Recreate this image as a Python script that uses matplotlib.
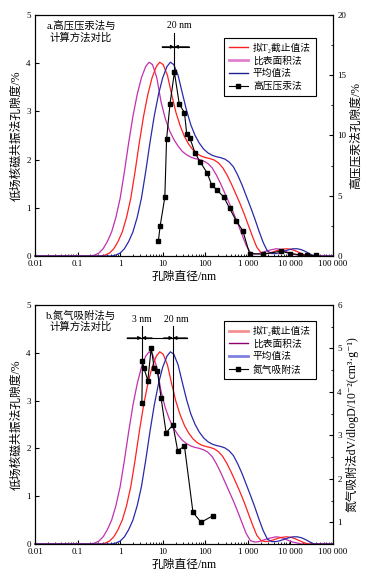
import numpy as np
import matplotlib
matplotlib.use("Agg")
import matplotlib.pyplot as plt
from matplotlib.lines import Line2D
from matplotlib.ticker import FixedLocator, FixedFormatter, MultipleLocator, LogLocator, NullFormatter

plt.rcParams['font.family'] = ['Liberation Serif', 'Noto Sans CJK SC', 'DejaVu Serif']
plt.rcParams['axes.unicode_minus'] = False

# 低场核磁共振 计算方法曲线 (log10 孔径/nm, 孔隙度/%)
t2_logd = [-2.0, -0.45, -0.35, -0.25, -0.15, -0.05, 0.05, 0.15, 0.25, 0.35, 0.45, 0.55, 0.65, 0.75,
           0.85, 0.93, 1.01, 1.11, 1.21, 1.31, 1.41, 1.51, 1.61, 1.71, 1.81, 1.91, 2.01, 2.11, 2.21,
           2.31, 2.41, 2.51, 2.61, 2.71, 2.81, 2.91, 3.01, 3.11, 3.21, 3.31, 3.41, 3.51, 3.61, 3.71,
           3.81, 3.91, 4.01, 4.11, 4.21, 4.31, 4.41, 5.0]
t2_val = [0, 0, 0.02, 0.06, 0.15, 0.3, 0.5, 0.8, 1.2, 1.75, 2.35, 2.9, 3.35, 3.7,
          3.93, 4.02, 3.97, 3.75, 3.35, 2.98, 2.7, 2.48, 2.32, 2.2, 2.12, 2.07, 2.04, 2.02, 1.99,
          1.93, 1.83, 1.68, 1.5, 1.3, 1.1, 0.88, 0.64, 0.4, 0.18, 0.07, 0.05, 0.06, 0.09, 0.12,
          0.14, 0.15, 0.14, 0.11, 0.07, 0.03, 0, 0]

sa_logd = [-2.0, -0.7, -0.6, -0.5, -0.4, -0.3, -0.2, -0.1, 0.0, 0.1, 0.2, 0.3, 0.4, 0.5,
           0.6, 0.68, 0.76, 0.86, 0.96, 1.06, 1.16, 1.26, 1.36, 1.46, 1.56, 1.66, 1.76, 1.86, 1.96,
           2.06, 2.16, 2.26, 2.36, 2.46, 2.56, 2.66, 2.76, 2.86, 2.96, 3.06, 3.16, 3.26, 3.36, 3.46,
           3.56, 3.66, 3.76, 3.86, 3.96, 4.06, 4.16, 4.26, 5.0]
sa_val = [0, 0, 0.02, 0.06, 0.15, 0.3, 0.5, 0.8, 1.2, 1.75, 2.35, 2.9, 3.35, 3.7,
          3.93, 4.02, 3.97, 3.7, 3.2, 2.85, 2.6, 2.42, 2.28, 2.17, 2.1, 2.05, 2.02, 2.0, 1.97,
          1.92, 1.83, 1.68, 1.5, 1.3, 1.1, 0.9, 0.68, 0.45, 0.22, 0.07, 0.04, 0.05, 0.08, 0.11,
          0.13, 0.15, 0.14, 0.11, 0.07, 0.04, 0.02, 0, 0]

avg_logd = [-2.0, -0.2, -0.1, 0.0, 0.1, 0.2, 0.3, 0.4, 0.5, 0.6, 0.7, 0.8, 0.9, 1.0,
            1.1, 1.18, 1.26, 1.36, 1.46, 1.56, 1.66, 1.76, 1.86, 1.96, 2.06, 2.16, 2.26, 2.36, 2.46,
            2.56, 2.66, 2.76, 2.86, 2.96, 3.06, 3.16, 3.26, 3.36, 3.46, 3.56, 3.66, 3.76, 3.86, 3.96,
            4.06, 4.16, 4.26, 4.36, 4.46, 4.56, 5.0]
avg_val = [0, 0, 0.02, 0.06, 0.15, 0.3, 0.5, 0.8, 1.2, 1.75, 2.35, 2.9, 3.35, 3.7,
           3.93, 4.02, 3.97, 3.75, 3.38, 3.02, 2.72, 2.5, 2.34, 2.22, 2.14, 2.09, 2.06, 2.04, 2.01,
           1.95, 1.85, 1.68, 1.48, 1.25, 1.02, 0.78, 0.52, 0.28, 0.1, 0.05, 0.05, 0.07, 0.1, 0.13,
           0.15, 0.15, 0.13, 0.09, 0.04, 0, 0]

# 高压压汞法 (孔径/nm, 孔隙度/%)
hg_d = [7.9, 8.7, 11.2, 12.3, 14.8, 18.8, 24.5, 32.4, 36.7, 43.7, 57.5, 75.9, 112, 141, 186,
        275, 372, 537, 759, 1096, 2291, 6026, 10000, 16600, 25100, 39800]
hg_val = [1.24, 2.5, 4.87, 9.67, 12.6, 15.25, 12.6, 11.9, 10.1, 9.76, 8.55, 7.8, 6.86, 5.89, 5.5,
          4.87, 3.95, 2.9, 2.1, 0.2, 0.15, 0.4, 0.2, 0.1, 0.05, 0.05]

# 氮气吸附法 (孔径/nm, dV/dlogD /10^-2 cm3/g)
n2_d = [3.24, 3.34, 3.63, 4.47, 5.37, 6.31, 7.52, 9.12, 12.0, 17.4, 22.4, 32.4, 51.3, 79.4, 151]
n2_val = [3.75, 4.70, 4.54, 4.26, 5.02, 4.54, 4.48, 3.87, 3.06, 3.24, 2.65, 2.75, 1.23, 1.0, 1.15]

xtick_vals = [0.01, 0.1, 1, 10, 100, 1000, 10000, 100000]
xtick_labels = ['0.01', '0.1', '1', '10', '100', '1 000', '10 000', '100 000']

c_red = '#ff2020'
c_mag = '#c030b0'
c_blue = '#2a2aa8'

fig = plt.figure(figsize=(3.76, 5.81), dpi=100)


def base_axes(rect):
    ax = fig.add_axes(rect)
    ax.set_xscale('log')
    ax.set_xlim(0.01, 100000)
    ax.set_ylim(0, 5)
    ax.plot(10 ** np.array(sa_logd), sa_val, color=c_mag, lw=0.9, clip_on=False)
    ax.plot(10 ** np.array(t2_logd), t2_val, color=c_red, lw=0.9, clip_on=False)
    ax.plot(10 ** np.array(avg_logd), avg_val, color=c_blue, lw=0.9, clip_on=False)
    ax.xaxis.set_major_locator(FixedLocator(xtick_vals))
    ax.xaxis.set_major_formatter(FixedFormatter(xtick_labels))
    ax.xaxis.set_minor_locator(LogLocator(base=10, subs=np.arange(2, 10), numticks=20))
    ax.xaxis.set_minor_formatter(NullFormatter())
    ax.yaxis.set_major_locator(MultipleLocator(1))
    ax.tick_params(which='both', direction='in', labelsize=6.5, top=False, right=False, pad=3)
    ax.tick_params(which='major', length=3)
    ax.tick_params(which='minor', length=1.8)
    ax.set_xlabel('孔隙直径/nm', fontsize=8.5, labelpad=2)
    ax.set_ylabel('低场核磁共振法孔隙度/%', fontsize=8.5, labelpad=3)
    for s in ax.spines.values():
        s.set_linewidth(0.8)
    return ax


def bracket(ax, y, left, mid, right):
    ax.plot([left, right], [y, y], color='k', lw=0.8)
    for start in (left, right):
        ax.annotate('', xy=(mid, y), xytext=(start, y),
                    arrowprops=dict(arrowstyle='-|>', color='k', lw=0.8,
                                    mutation_scale=5, shrinkA=0, shrinkB=0))


def right_ticks(a):
    a.tick_params(which='both', direction='in', labelsize=6.5, pad=3)
    a.tick_params(which='major', length=3)
    a.tick_params(which='minor', length=1.8)


# ---------------- a ----------------
ax = base_axes([0.0931, 0.5594, 0.7926, 0.4148])
ax2 = ax.twinx()
ax2.set_ylim(0, 20)
ax2.plot(hg_d, hg_val, color='k', lw=0.8, marker='s', ms=2.7)
ax2.yaxis.set_major_locator(MultipleLocator(5))
ax2.yaxis.set_minor_locator(MultipleLocator(2.5))
right_ticks(ax2)
ax2.set_ylabel('高压压汞法孔隙度/%', fontsize=8.5, labelpad=3)

ax.text(0.154, 0.932, 'a.高压压汞法与\n计算方法对比', transform=ax.transAxes,
        ha='center', va='center', fontsize=7.5, linespacing=1.15)
ax.text(24, 4.79, '20 nm', ha='center', va='center', fontsize=7)
ax.plot([18.8, 18.8], [4.63, 3.81], color='k', lw=0.8)
bracket(ax, 4.34, 9.7, 18.8, 41.7)

h_a = [Line2D([], [], color=c_red, lw=1),
       Line2D([], [], color='#e080d0', lw=2),
       Line2D([], [], color='#202090', lw=1),
       Line2D([], [], color='k', lw=0.8, marker='s', ms=2.7)]
leg = ax2.legend(h_a, ['拟T₂截止值法', '比表面积法', '平均值法', '高压压汞法'],
                 loc='upper left', bbox_to_anchor=(0.617, 0.925), fontsize=7,
                 frameon=True, fancybox=False, edgecolor='k', framealpha=1,
                 handlelength=2.0, handletextpad=0.5, labelspacing=0.35, borderpad=0.5)
leg.get_frame().set_linewidth(0.8)

# ---------------- b ----------------
bx = base_axes([0.0931, 0.0637, 0.7926, 0.4114])
bx2 = bx.twinx()
bx2.set_ylim(0.5, 6)
bx2.plot(n2_d, n2_val, color='k', lw=0.8, marker='s', ms=2.7)
bx2.yaxis.set_major_locator(FixedLocator([1, 2, 3, 4, 5, 6]))
bx2.yaxis.set_minor_locator(MultipleLocator(0.5))
right_ticks(bx2)
bx2.set_ylabel('氮气吸附法dV/dlogD/10⁻²(cm³·g⁻¹)', fontsize=8.5, labelpad=3)

bx.text(0.154, 0.932, 'b.氮气吸附法与\n计算方法对比', transform=bx.transAxes,
        ha='center', va='center', fontsize=7.5, linespacing=1.15)
bx.text(3.28, 4.70, '3 nm', ha='center', va='center', fontsize=7)
bx.text(20.7, 4.70, '20 nm', ha='center', va='center', fontsize=7)
bx.plot([3.2, 3.2], [4.55, 3.85], color='k', lw=0.8)
bx.plot([17.4, 17.4], [4.55, 2.55], color='k', lw=0.8)
bx.plot([1.46, 37.4], [4.31, 4.31], color='k', lw=0.8)
bracket(bx, 4.31, 1.46, 3.2, 5.6)
bracket(bx, 4.31, 10.5, 17.4, 37.4)

h_b = [Line2D([], [], color='#f49090', lw=2),
       Line2D([], [], color='#900070', lw=1),
       Line2D([], [], color='#8080e0', lw=2),
       Line2D([], [], color='k', lw=0.8, marker='s', ms=2.7)]
leg = bx2.legend(h_b, ['拟T₂截止值法', '比表面积法', '平均值法', '氮气吸附法'],
                 loc='upper left', bbox_to_anchor=(0.617, 0.953), fontsize=7,
                 frameon=True, fancybox=False, edgecolor='k', framealpha=1,
                 handlelength=2.0, handletextpad=0.5, labelspacing=0.35, borderpad=0.5)
leg.get_frame().set_linewidth(0.8)

fig.savefig('out.png', dpi=100)
